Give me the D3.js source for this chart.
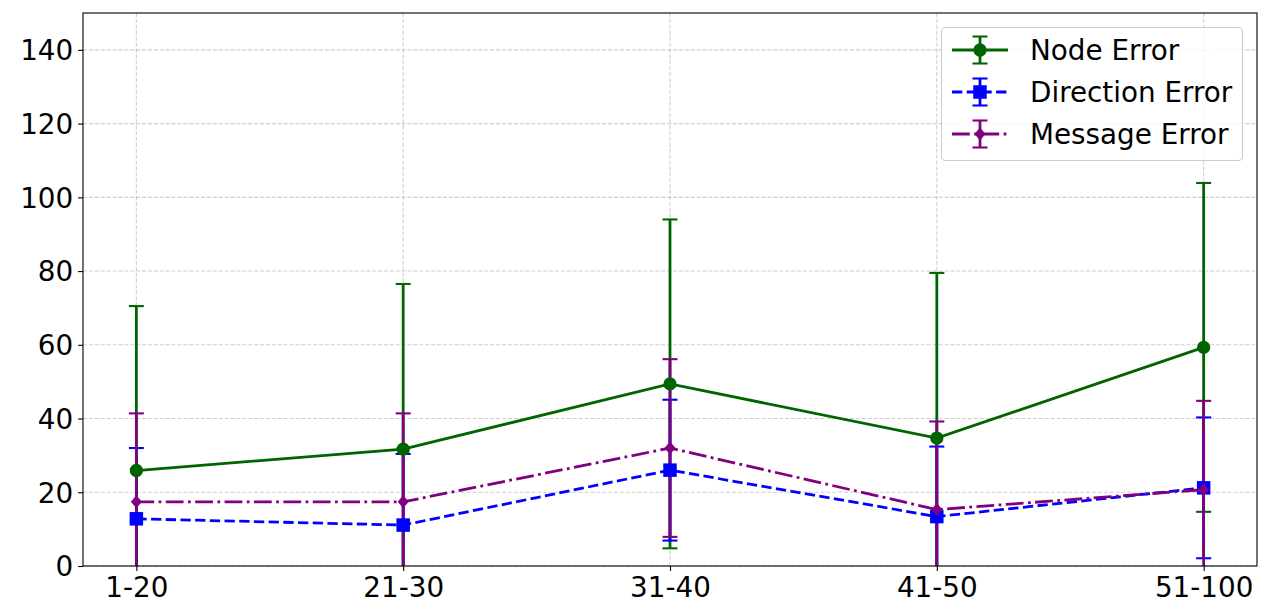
<!DOCTYPE html>
<html>
<head>
<meta charset="utf-8">
<script src="https://cdn.jsdelivr.net/npm/d3@7"></script>
<style>
  html, body { margin: 0; padding: 0; background: #fff; }
  svg { display: block; }
  text { font-family: "DejaVu Sans", sans-serif; fill: #000; }
</style>
</head>
<body>
<svg id="chart" width="1280" height="612"></svg>
<script>
// ---- data ----
const categories = ["1-20", "21-30", "31-40", "41-50", "51-100"];
const nodeMean = [25.9, 31.7, 49.4, 34.7, 59.3];
const nodeErr  = [44.6, 44.8, 44.6, 44.8, 44.6];
const dirMean  = [12.8, 11.1, 26.0, 13.4, 21.2];
const dirErr   = [19.2, 19.3, 19.1, 19.0, 19.1];
const msgMean  = [17.4, 17.4, 32.0, 15.3, 20.7];
const msgErr   = [24.0, 24.0, 24.1, 23.9, 24.1];
const yTicks   = [0, 20, 40, 60, 80, 100, 120, 140];
const seriesNames = ["Node Error", "Direction Error", "Message Error"];

// ---- layout ----
const W = 1280, H = 612;
const L = 83, R = 1257, T = 13, B = 566;
const FONT = 27.8;
const LW = 2.78;

const series = [
  { name: seriesNames[0], mean: nodeMean, err: nodeErr, color: "#006400", dash: null, marker: "circle" },
  { name: seriesNames[1], mean: dirMean,  err: dirErr,  color: "#0000ff", dash: "10.3,4.4", marker: "square" },
  { name: seriesNames[2], mean: msgMean,  err: msgErr,  color: "#800080", dash: "17.8,4.4,2.8,4.4", marker: "thin_diamond" }
];

const svg = d3.select("#chart");
const x = d3.scalePoint().domain(categories).range([L, R]).padding(0.2);
const y = d3.scaleLinear().domain([0, 150]).range([B, T]);

// clip
svg.append("defs").append("clipPath").attr("id", "clip")
  .append("rect").attr("x", L).attr("y", T).attr("width", R - L).attr("height", B - T);

// grid
const grid = svg.append("g");
grid.selectAll(".gy").data(yTicks).enter().append("line")
  .attr("x1", L).attr("x2", R).attr("y1", d => y(d)).attr("y2", d => y(d))
  .attr("stroke", "#b0b0b0").attr("stroke-opacity", 0.6).attr("stroke-width", 1.1)
  .attr("stroke-dasharray", "4.1,1.8");
grid.selectAll(".gx").data(categories).enter().append("line")
  .attr("y1", T).attr("y2", B).attr("x1", d => x(d)).attr("x2", d => x(d))
  .attr("stroke", "#b0b0b0").attr("stroke-opacity", 0.6).attr("stroke-width", 1.1)
  .attr("stroke-dasharray", "4.1,1.8");

// marker path generator
function markerPath(type) {
  if (type === "circle") return d3.symbol(d3.symbolCircle, Math.PI * 13.3 * 13.3 / 4)();
  if (type === "square") { const s = 13.5; return `M${-s/2},${-s/2}H${s/2}V${s/2}H${-s/2}Z`; }
  const h = 13 / 2, w = 11 / 2;
  return `M0,${-h}L${w},0L0,${h}L${-w},0Z`;
}

const plot = svg.append("g").attr("clip-path", "url(#clip)");
const capHalf = 7.5;

// error bars first (all series), then data lines
series.forEach(s => {
  const g = plot.append("g");
  categories.forEach((c, i) => {
    const cx = x(c);
    const lo = s.mean[i] - s.err[i], hi = s.mean[i] + s.err[i];
    g.append("line").attr("x1", cx).attr("x2", cx).attr("y1", y(lo)).attr("y2", y(hi))
      .attr("stroke", s.color).attr("stroke-width", LW);
    [lo, hi].forEach(v => {
      g.append("line").attr("x1", cx - capHalf).attr("x2", cx + capHalf)
        .attr("y1", y(v)).attr("y2", y(v))
        .attr("stroke", s.color).attr("stroke-width", LW * 0.75);
    });
  });
});

series.forEach(s => {
  const g = plot.append("g");
  const line = d3.line().x((d, i) => x(categories[i])).y(d => y(d));
  g.append("path").attr("d", line(s.mean)).attr("fill", "none")
    .attr("stroke", s.color).attr("stroke-width", LW)
    .attr("stroke-dasharray", s.dash);
  g.selectAll(".m").data(s.mean).enter().append("path")
    .attr("transform", (d, i) => `translate(${x(categories[i])},${y(d)})`)
    .attr("d", markerPath(s.marker))
    .attr("fill", s.color);
});

// axes
const yAxis = d3.axisLeft(y).tickValues(yTicks).tickSize(4.9).tickPadding(4.9).tickSizeOuter(0);
const xAxis = d3.axisBottom(x).tickSize(4.9).tickPadding(4.9).tickSizeOuter(0);
const gy = svg.append("g").attr("transform", `translate(${L},0)`).call(yAxis);
const gx = svg.append("g").attr("transform", `translate(0,${B})`).call(xAxis);
[gx, gy].forEach(g => {
  g.select(".domain").remove();
  g.selectAll(".tick line").attr("stroke", "#000").attr("stroke-width", 1.1);
  g.selectAll(".tick text").style("font-family", "'DejaVu Sans', sans-serif")
    .style("font-size", FONT + "px").attr("fill", "#000");
});
gy.selectAll(".tick text").attr("dy", "0.35em");
gx.selectAll(".tick text").attr("dy", null).attr("y", 31);

// frame
svg.append("rect").attr("x", L).attr("y", T).attr("width", R - L).attr("height", B - T)
  .attr("fill", "none").attr("stroke", "#000").attr("stroke-width", 1.1);

// legend
const leg = svg.append("g");
leg.append("rect").attr("x", 941.5).attr("y", 27.5).attr("width", 301).attr("height", 133)
  .attr("rx", 4).attr("fill", "#fff").attr("fill-opacity", 0.8)
  .attr("stroke", "#cccccc").attr("stroke-width", 1.1);
series.forEach((s, i) => {
  const cy = 50 + i * 42;
  const g = leg.append("g");
  g.append("line").attr("x1", 952).attr("x2", 1008).attr("y1", cy).attr("y2", cy)
    .attr("stroke", s.color).attr("stroke-width", LW).attr("stroke-dasharray", s.dash);
  g.append("line").attr("x1", 980).attr("x2", 980).attr("y1", cy - 13.5).attr("y2", cy + 13.5)
    .attr("stroke", s.color).attr("stroke-width", LW);
  [-13.5, 13.5].forEach(dy => {
    g.append("line").attr("x1", 980 - capHalf).attr("x2", 980 + capHalf)
      .attr("y1", cy + dy).attr("y2", cy + dy)
      .attr("stroke", s.color).attr("stroke-width", LW * 0.75);
  });
  g.append("path").attr("transform", `translate(980,${cy})`)
    .attr("d", markerPath(s.marker)).attr("fill", s.color);
  g.append("text").attr("x", 1030).attr("y", cy + 10)
    .style("font-size", FONT + "px").text(s.name);
});
</script>
</body>
</html>
